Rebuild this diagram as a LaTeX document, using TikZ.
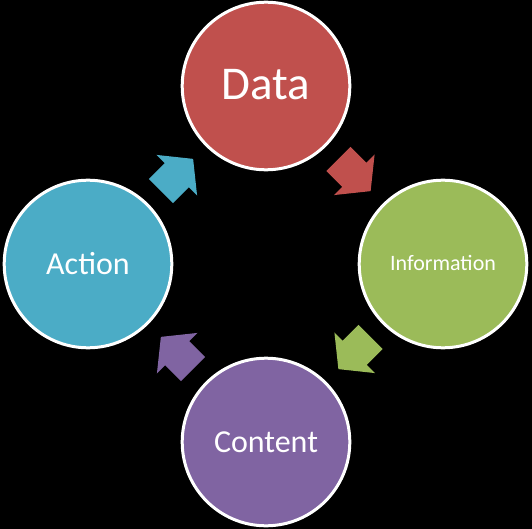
\documentclass[tikz,border=0pt]{standalone}
\usepackage{fontspec}
\setmainfont{Carlito}
\usetikzlibrary{calc}
\definecolor{cred}{HTML}{C0504D}
\definecolor{cgreen}{HTML}{9BBB59}
\definecolor{cpurple}{HTML}{8064A2}
\definecolor{cblue}{HTML}{4BACC6}
\tikzset{
  bubble/.style={circle, draw=white, line width=3bp, minimum size=167.6bp, inner sep=0pt},
  lbl/.style={text=white, anchor=base, inner sep=0pt},
  cyclearrow/.pic={\fill (-22.7,17) -- (-0.3,17) -- (-0.3,28.7) -- (22.8,0) -- (-0.3,-28.7) -- (-0.3,-17) -- (-22.7,-17) -- cycle;}
}
\begin{document}
\begin{tikzpicture}[x=1bp,y=1bp]
\fill[black] (0,-529) rectangle (532,0);
\useasboundingbox (0,-529) rectangle (532,0);
\node[bubble, fill=cred] (data) at (266,-86) {};
\node[bubble, fill=cgreen] (info) at (443,-264) {};
\node[bubble, fill=cpurple] (content) at (266,-442) {};
\node[bubble, fill=cblue] (action) at (88,-264) {};
\node[lbl, font=\fontsize{47bp}{56bp}\selectfont] (datatext) at ([yshift=-14bp]data.center) {Data};
\node[lbl, font=\fontsize{22bp}{26bp}\selectfont] (infotext) at ([yshift=-6.7bp]info.center) {Information};
\node[lbl, font=\fontsize{32bp}{38bp}\selectfont] (contenttext) at ([yshift=-10.7bp]content.center) {Content};
\node[lbl, font=\fontsize{32bp}{38bp}\selectfont] (actiontext) at ([yshift=-10bp]action.center) {Action};
\pic[cred, rotate=-45] at ($(data)!0.5!(info)$) {cyclearrow};
\pic[cgreen, rotate=-135] at ($(info)!0.5!(content)$) {cyclearrow};
\pic[cpurple, rotate=135] at ($(content)!0.5!(action)$) {cyclearrow};
\pic[cblue, rotate=45] at ($(action)!0.5!(data)$) {cyclearrow};
\end{tikzpicture}
\end{document}
